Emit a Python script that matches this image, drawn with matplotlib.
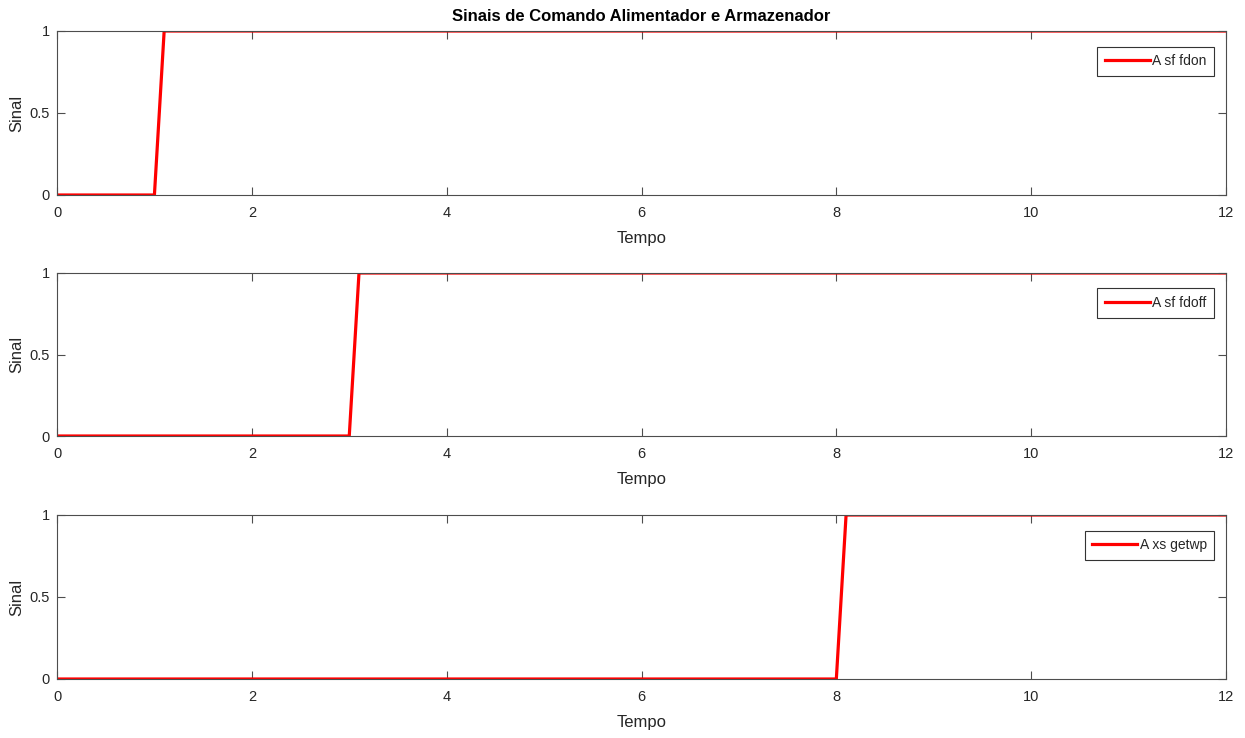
import matplotlib
matplotlib.use("Agg")
import matplotlib.pyplot as plt

plt.rcParams['font.family'] = ['Liberation Sans', 'DejaVu Sans']

# Data
t_fdon = [0.0, 1.0, 1.1, 12.0]
s_fdon = [0, 0, 1, 1]
t_fdoff = [0.0, 3.0, 3.1, 12.0]
s_fdoff = [0, 0, 1, 1]
t_getwp = [0.0, 8.0, 8.1, 12.0]
s_getwp = [0, 0, 1, 1]
labels = ['A sf fdon', 'A sf fdoff', 'A xs getwp']
xticks = [0, 2, 4, 6, 8, 10, 12]
yticks = [0, 0.5, 1]
ytick_labels = ['0', '0.5', '1']

series = [(t_fdon, s_fdon), (t_fdoff, s_fdoff), (t_getwp, s_getwp)]

W, H = 1245, 738
fig = plt.figure(figsize=(W / 100, H / 100), dpi=100)

boxes = [(31, 195), (273, 436), (515, 679)]
left_px, right_px = 57, 1226
axcol = '#4d4d4d'
txtcol = '#262626'

for i, ((t, s), lab, (top, bot)) in enumerate(zip(series, labels, boxes)):
    ax = fig.add_axes([left_px / W, 1 - bot / H, (right_px - left_px) / W, (bot - top) / H])
    ax.plot(t, s, color='#ff0000', lw=2.3, label=lab, solid_joinstyle='miter')
    ax.set_xlim(0, 12)
    ax.set_ylim(0, 1)
    ax.set_xticks(xticks)
    ax.set_xticklabels([str(x) for x in xticks])
    ax.set_yticks(yticks)
    ax.set_yticklabels(ytick_labels)
    ax.tick_params(direction='in', length=5.5, width=0.8, top=True, right=True,
                   colors=axcol, labelcolor=txtcol, labelsize=10.5)
    ax.tick_params(axis='x', pad=8)
    ax.tick_params(axis='y', pad=5)
    for sp in ax.spines.values():
        sp.set_color(axcol)
        sp.set_linewidth(0.8)
    ax.set_xlabel('Tempo', fontsize=12, color=txtcol, labelpad=8)
    ax.set_ylabel('Sinal', fontsize=12, color=txtcol, labelpad=4)
    leg = ax.legend(loc='upper right', bbox_to_anchor=(0.99, 0.905), fontsize=10,
                    handlelength=3.2, handletextpad=0.2, borderpad=0.55,
                    fancybox=False, framealpha=1, edgecolor='#333333', borderaxespad=0)
    leg.get_frame().set_linewidth(0.8)
    for txt in leg.get_texts():
        txt.set_color(txtcol)
    if i == 0:
        ax.set_title('Sinais de Comando Alimentador e Armazenador', fontsize=12,
                     fontweight='bold', color='black', pad=7)

fig.savefig('out.png', dpi=100, facecolor='white')
